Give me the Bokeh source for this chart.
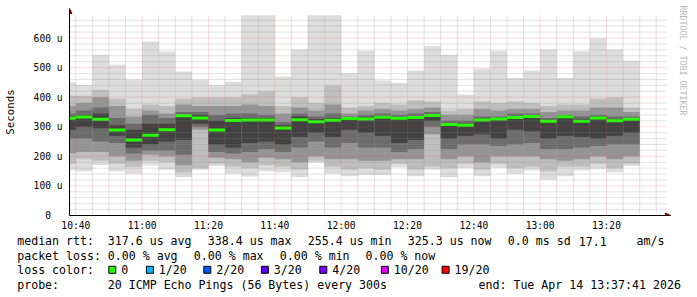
from bokeh.plotting import figure
from bokeh.layouts import column
from bokeh.models import Range1d, FixedTicker, Arrow, NormalHead, ColumnDataSource, Title
from bokeh.core.properties import value
from bokeh.embed import file_html
from bokeh.resources import INLINE

# ---------------- data (microseconds, time = minutes after 10:00) ----------------
bar_end = [40 + 5 * i for i in range(35)]          # 10:40 ... 13:30, 5-minute steps

rtt_max = [450, 441, 543, 510, 460, 588, 554, 487, 460, 441, 452, 700, 720, 469, 561,
           710, 730, 481, 557, 456, 449, 490, 572, 543, 408, 497, 557, 465, 490, 561,
           465, 555, 599, 561, 523]
rtt_min = [152, 150, 171, 150, 141, 169, 155, 129, 155, 167, 141, 132, 150, 146, 129,
           178, 141, 133, 137, 137, 163, 133, 155, 129, 160, 133, 161, 141, 152, 122,
           133, 152, 158, 146, 167]
band2_lo = [175, 190, 185, 175, 165, 185, 180, 145, 160, 175, 165, 160, 170, 165, 155,
            185, 165, 155, 160, 155, 175, 155, 165, 160, 175, 155, 175, 160, 165, 150,
            165, 165, 175, 160, 175]
band2_hi = [405, 405, 425, 395, 360, 375, 370, 395, 400, 400, 400, 410, 420, 370, 400,
            380, 440, 365, 370, 380, 375, 390, 385, 355, 360, 385, 380, 385, 380, 370,
            375, 375, 395, 400, 365]
band3_lo = [210, 215, 215, 200, 185, 205, 200, 170, 290, 195, 190, 180, 195, 190, 180,
            200, 190, 190, 185, 185, 190, 190, 275, 190, 200, 180, 200, 200, 200, 190,
            185, 190, 200, 190, 200]
band3_hi = [370, 380, 400, 370, 335, 355, 345, 375, 370, 370, 370, 375, 370, 345, 365,
            355, 375, 345, 355, 360, 355, 360, 365, 340, 340, 360, 355, 360, 360, 350,
            355, 355, 365, 365, 350]
band4_lo = [260, 260, 250, 245, 210, 220, 220, 205, 300, 215, 210, 215, 225, 215, 230,
            250, 230, 245, 230, 230, 215, 225, 300, 225, 240, 240, 235, 240, 245, 225,
            225, 230, 235, 240, 240]
band4_hi = [345, 355, 365, 330, 310, 340, 330, 350, 350, 340, 345, 345, 340, 315, 345,
            335, 345, 335, 340, 345, 340, 345, 350, 320, 320, 335, 335, 345, 345, 330,
            340, 335, 340, 335, 335]
band5_lo = [290, 300, 295, 270, 230, 240, 250, 255, 310, 240, 230, 245, 250, 240, 265,
            280, 265, 290, 280, 270, 245, 255, 320, 260, 270, 275, 260, 290, 285, 260,
            270, 265, 260, 270, 280]
band5_hi = [335, 340, 345, 305, 290, 310, 310, 340, 340, 320, 330, 330, 330, 305, 335,
            325, 330, 332, 332, 336, 333, 335, 343, 312, 310, 328, 330, 336, 338, 324,
            337, 325, 334, 325, 330]
median = [329, 333, 325, 289, 255, 271, 290, 337, 330, 289, 321, 323, 323, 296, 324,
          317, 322, 328, 326, 332, 329, 331, 338, 308, 305, 323, 326, 331, 335, 319,
          334, 319, 330, 320, 325]

y_ticks = [0, 100, 200, 300, 400, 500, 600]
y_tick_labels = ["0\u00a0\u00a0", "100 u", "200 u", "300 u", "400 u", "500 u", "600 u"]
y_minor = [v for v in range(20, 661, 20) if v % 100 != 0]
x_ticks = [40, 60, 80, 100, 120, 140, 160, 180, 200]
x_tick_labels = ["10:40", "11:00", "11:20", "11:40", "12:00", "12:20", "12:40", "13:00", "13:20"]
x_minor = [m for m in range(45, 216, 5) if m % 20 != 0]

row_texts = [
    [("median rtt:", 16.7), ("317.6 us avg", 107.3), ("338.4 us max", 207.3),
     ("255.4 us min", 307.3), ("325.3 us now", 407.3), ("0.0 ms sd", 507.3),
     ("17.1", 578.3), ("am/s", 636)],
    [("packet loss:", 16.7), ("0.00 % avg", 107.3), ("0.00 % max", 193.3),
     ("0.00 % min", 279.3), ("0.00 % now", 365)],
    [("loss color:", 16.7)],
    [("probe:", 16.7), ("20 ICMP Echo Pings (56 Bytes) every 300s", 107.3),
     ("end: Tue Apr 14 13:37:41 2026", 478)],
]
row_y = [240.7, 255.0, 269.3, 284.3]
loss_labels = ["0", "1/20", "2/20", "3/20", "4/20", "10/20", "19/20"]
loss_colors = ["#26ff00", "#00b8ff", "#0059ff", "#5e00ff", "#7e00ff", "#dd00ff", "#ff0000"]
loss_text_x = [120.7, 158.3, 215.7, 273.3, 331.7, 393.3, 454.0]

# ---------------- geometry ----------------
W, H_MAIN, H_LEG = 697, 235, 62
LEFT, TOP, RIGHT = 67, 8, 25
FRAME_W = W - LEFT - RIGHT            # 605
FRAME_H = 215 - TOP                   # 207
PX_PER_MIN = 601 / 180.0
PX_PER_U = 177.5 / 600.0
X0 = 38.1
X1 = X0 + FRAME_W / PX_PER_MIN
GRAPH_END = X0 + 180.0
Y1 = FRAME_H / PX_PER_U
GRAPH_TOP = 677

p = figure(width=W, height=H_MAIN, output_backend="svg", toolbar_location=None,
           x_range=Range1d(X0, X1), y_range=Range1d(0, Y1),
           min_border_left=LEFT, min_border_right=RIGHT, min_border_top=TOP,
           min_border_bottom=H_MAIN - 215)
p.frame_align = False
p.outline_line_color = None
p.background_fill_color = "white"
p.border_fill_color = "white"
p.grid.visible = False

src = ColumnDataSource(dict(
    left=[t - 5 for t in bar_end], right=bar_end,
    mn=rtt_min, mx=[min(v, GRAPH_TOP) for v in rtt_max],
    l2=band2_lo, h2=band2_hi, l3=band3_lo, h3=band3_hi,
    l4=band4_lo, h4=band4_hi, l5=band5_lo, h5=band5_hi, med=median))

layers = [("mn", "mx", "#dddddd"), ("l2", "h2", "#bfbfbf"), ("l3", "h3", "#959595"),
          ("l4", "h4", "#6c6c6c"), ("l5", "h5", "#424242")]
for lo, hi, col in layers:
    p.quad(left="left", right="right", bottom=lo, top=hi, source=src,
           fill_color=col, line_color=None)

p.segment(x0="left", x1="right", y0="med", y1="med", source=src,
          line_color="#26ff00", line_width=3)

# grid (rrdtool style: dotted, drawn over the smoke, limited to the graph area)
p.segment(x0=x_minor, x1=x_minor, y0=[0] * len(x_minor), y1=[GRAPH_TOP] * len(x_minor),
          line_color="#8c8c8c", line_alpha=0.5, line_dash="1 1", line_width=1)
p.segment(x0=[X0] * len(y_minor), x1=[GRAPH_END] * len(y_minor), y0=y_minor, y1=y_minor,
          line_color="#8c8c8c", line_alpha=0.5, line_dash="1 1", line_width=1)
p.segment(x0=x_ticks, x1=x_ticks, y0=[0] * len(x_ticks), y1=[GRAPH_TOP] * len(x_ticks),
          line_color="#d04040", line_alpha=0.35, line_dash="1 1", line_width=1)
yt_major = y_ticks[1:]
p.segment(x0=[X0] * len(yt_major), x1=[GRAPH_END] * len(yt_major), y0=yt_major, y1=yt_major,
          line_color="#d04040", line_alpha=0.35, line_dash="1 1", line_width=1)

# ---------------- axes ----------------
p.xaxis.ticker = FixedTicker(ticks=x_ticks)
p.yaxis.ticker = FixedTicker(ticks=y_ticks)
p.xaxis.major_label_overrides = dict(zip(x_ticks, x_tick_labels))
p.yaxis.major_label_overrides = dict(zip(y_ticks, y_tick_labels))
for ax in (p.xaxis[0], p.yaxis[0]):
    ax.major_tick_in = 0
    ax.major_tick_out = 0
    ax.minor_tick_in = 0
    ax.minor_tick_out = 0
    ax.axis_line_color = "black"
    ax.major_label_text_font = "DejaVu Sans Mono"
    ax.major_label_text_font_size = "9.6px"
    ax.major_label_text_color = "black"
p.xaxis.major_label_standoff = 4
p.yaxis.major_label_standoff = 7
p.yaxis.axis_label = "Seconds"
p.yaxis.axis_label_text_font = "DejaVu Sans Mono"
p.yaxis.axis_label_text_font_size = "10.8px"
p.yaxis.axis_label_text_font_style = "normal"
p.yaxis.axis_label_text_color = "black"
p.yaxis.axis_label_standoff = 14

head = dict(size=5, fill_color="#7f0000", line_color="#7f0000")
p.add_layout(Arrow(end=NormalHead(**head), x_start=X0, y_start=0, x_end=X0, y_end=Y1,
                   line_color="black", line_width=1))
p.add_layout(Arrow(end=NormalHead(**head), x_start=X0, y_start=0, x_end=X1, y_end=0,
                   line_color="black", line_width=1))

p.add_layout(Title(text="RRDTOOL / TOBI OETIKER", align="left", text_font="DejaVu Sans Mono",
                   text_font_size="8.3px", text_font_style="normal", text_color="#b8b8b8",
                   text_line_height=1.0, standoff=15, offset=-3), "right")

# ---------------- legend block ----------------
q = figure(width=W, height=H_LEG, output_backend="svg", toolbar_location=None,
           x_range=Range1d(0, W), y_range=Range1d(H_LEG, 0),
           x_axis_type=None, y_axis_type=None, min_border=0)
q.frame_align = False
q.outline_line_color = None
q.background_fill_color = "white"
q.border_fill_color = "white"

tx, ty, tt = [], [], []
for row, yy in zip(row_texts, row_y):
    for text, xx in row:
        tx.append(xx); ty.append(yy - H_MAIN); tt.append(text)
for lab, xx in zip(loss_labels, loss_text_x):
    tx.append(xx); ty.append(row_y[2] - H_MAIN); tt.append(lab)
q.text(x=tx, y=ty, text=tt, text_font=value("DejaVu Sans Mono"), text_font_size="11.6px",
       text_baseline="middle", text_align="left", text_color="black")
q.quad(left=[xx - 12.4 for xx in loss_text_x], right=[xx - 5.4 for xx in loss_text_x],
       top=[row_y[2] - H_MAIN - 3.5] * 7, bottom=[row_y[2] - H_MAIN + 3.5] * 7,
       fill_color=loss_colors, line_color="black", line_width=1)

layout = column(p, q, spacing=0)
open("out.html", "w").write(file_html(layout, INLINE))
